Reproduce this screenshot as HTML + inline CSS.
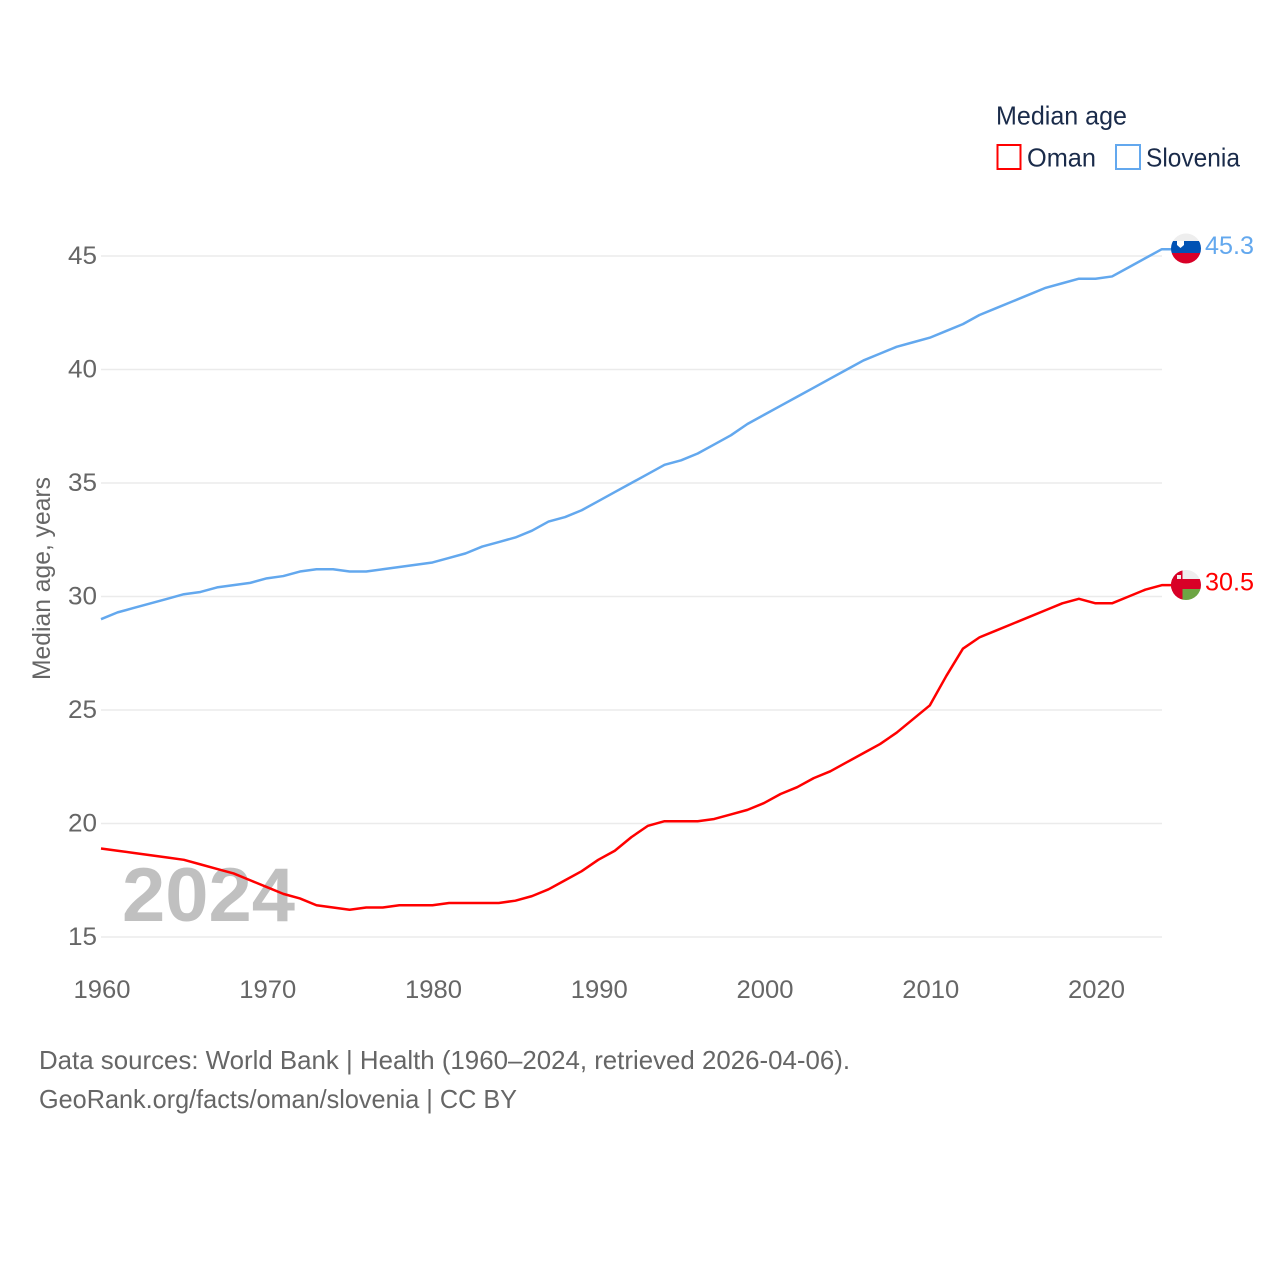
<!DOCTYPE html>
<html lang="en">
<head>
<meta charset="utf-8">
<title>Median age: Oman and Slovenia</title>
<style>
  html, body { margin: 0; padding: 0; background: #fff; }
  svg { display: block; font-family: "Liberation Sans", sans-serif; }
</style>
</head>
<body>
<svg id="chart" xmlns="http://www.w3.org/2000/svg" width="1280" height="1280" viewBox="0 0 1280 1280">
  <defs>
    <clipPath id="flag-clip-si"><circle cx="1186" cy="248.5" r="15"></circle></clipPath>
    <clipPath id="flag-clip-om"><circle cx="1186" cy="585" r="15"></circle></clipPath>
  </defs>
  <rect x="0" y="0" width="1280" height="1280" fill="#ffffff"></rect>
  <g id="grid"></g>
  <text x="122" y="921" font-size="76" font-weight="700" fill="#c0c0c0" textLength="173" lengthAdjust="spacingAndGlyphs">2024</text>
  <g id="y-ticks"></g>
  <g id="x-ticks"></g>
  <text transform="translate(50,680) rotate(-90)" font-size="25" fill="#666666" textLength="203" lengthAdjust="spacingAndGlyphs">Median age, years</text>
  <g id="series"></g>

  <g clip-path="url(#flag-clip-si)">
    <rect x="1171" y="233" width="30" height="8" fill="#eeeeee"></rect>
    <rect x="1171" y="241" width="30" height="12" fill="#0052b4"></rect>
    <rect x="1171" y="253" width="30" height="11" fill="#d80027"></rect>
    <path d="M1177 241h7v4l-3.500 3l-3.500-3z" fill="#ffffff"></path>
  </g>
  <g clip-path="url(#flag-clip-om)">
    <rect x="1171" y="570" width="30" height="30" fill="#eeeeee"></rect>
    <rect x="1171" y="579" width="30" height="10" fill="#d80027"></rect>
    <rect x="1182" y="589" width="19" height="11" fill="#6da544"></rect>
    <rect x="1171" y="570" width="11.500" height="30" fill="#d80027"></rect>
    <rect x="1177" y="575" width="4" height="4" fill="#eeeeee"></rect>
  </g>
  <text x="1205" y="254" font-size="25" fill="#63a8ee" textLength="49" lengthAdjust="spacingAndGlyphs">45.3</text>
  <text x="1205" y="590.500" font-size="25" fill="#ff0000" textLength="49" lengthAdjust="spacingAndGlyphs">30.5</text>

  <g>
    <text x="996" y="124.500" font-size="26" fill="#1a2b4a" textLength="131" lengthAdjust="spacingAndGlyphs">Median age</text>
    <rect x="997.500" y="145" width="23" height="24" fill="none" stroke="#ff0000" stroke-width="2"></rect>
    <text x="1027" y="166.500" font-size="26" fill="#1a2b4a" textLength="69" lengthAdjust="spacingAndGlyphs">Oman</text>
    <rect x="1116" y="145" width="24" height="24" fill="none" stroke="#63a8ee" stroke-width="2"></rect>
    <text x="1146" y="166.500" font-size="26" fill="#1a2b4a" textLength="94" lengthAdjust="spacingAndGlyphs">Slovenia</text>
  </g>

  <text x="39" y="1069" font-size="26" fill="#666666" textLength="811" lengthAdjust="spacingAndGlyphs">Data sources: World Bank | Health (1960–2024, retrieved 2026-04-06).</text>
  <text x="39" y="1108" font-size="26" fill="#666666" textLength="478" lengthAdjust="spacingAndGlyphs">GeoRank.org/facts/oman/slovenia | CC BY</text>
</svg>
<script>
const startYear = 1960;
const yTickValues = [15, 20, 25, 30, 35, 40, 45];
const xTickYears = [1960, 1970, 1980, 1990, 2000, 2010, 2020];
const omanValues = [18.9,18.8,18.7,18.6,18.5,18.4,18.2,18.0,17.8,17.5,17.2,16.9,16.7,16.4,16.3,16.2,16.3,16.3,16.4,16.4,16.4,16.5,16.5,16.5,16.5,16.6,16.8,17.1,17.5,17.9,18.4,18.8,19.4,19.9,20.1,20.1,20.1,20.2,20.4,20.6,20.9,21.3,21.6,22.0,22.3,22.7,23.1,23.5,24.0,24.6,25.2,26.5,27.7,28.2,28.5,28.8,29.1,29.4,29.7,29.9,29.7,29.7,30.0,30.3,30.5];
const sloveniaValues = [29.0,29.3,29.5,29.7,29.9,30.1,30.2,30.4,30.5,30.6,30.8,30.9,31.1,31.2,31.2,31.1,31.1,31.2,31.3,31.4,31.5,31.7,31.9,32.2,32.4,32.6,32.9,33.3,33.5,33.8,34.2,34.6,35.0,35.4,35.8,36.0,36.3,36.7,37.1,37.6,38.0,38.4,38.8,39.2,39.6,40.0,40.4,40.7,41.0,41.2,41.4,41.7,42.0,42.4,42.7,43.0,43.3,43.6,43.8,44.0,44.0,44.1,44.5,44.9,45.3];

const svgNS = 'http://www.w3.org/2000/svg';
function xScale(year) { return 101 + (year - 1960) * (994.5 / 60); }
function yScale(value) { return 937 - (value - 15) * (681 / 30); }

const grid = document.getElementById('grid');
const yTicks = document.getElementById('y-ticks');
const xTicks = document.getElementById('x-ticks');
const series = document.getElementById('series');

yTickValues.forEach(function (v) {
  const line = document.createElementNS(svgNS, 'line');
  
  
  line.setAttribute('x1', 101);
  line.setAttribute('x2', 1162);
  line.setAttribute('y1', yScale(v));
  line.setAttribute('y2', yScale(v));
  line.setAttribute('stroke', '#ebebeb');
  line.setAttribute('stroke-width', '1.5');
  grid.appendChild(line);

  const label = document.createElementNS(svgNS, 'text');
  
  
  label.setAttribute('x', 97);
  label.setAttribute('y', yScale(v) + 8);
  label.setAttribute('text-anchor', 'end');
  label.setAttribute('font-size', '25');
  label.setAttribute('fill', '#666666');
  label.setAttribute('textLength', '29');
  label.setAttribute('lengthAdjust', 'spacingAndGlyphs');
  label.textContent = String(v);
  yTicks.appendChild(label);
});

xTickYears.forEach(function (year) {
  const label = document.createElementNS(svgNS, 'text');
  
  
  label.setAttribute('x', xScale(year) + 1);
  label.setAttribute('y', 998);
  label.setAttribute('text-anchor', 'middle');
  label.setAttribute('font-size', '25');
  label.setAttribute('fill', '#666666');
  label.setAttribute('textLength', '57');
  label.setAttribute('lengthAdjust', 'spacingAndGlyphs');
  label.textContent = String(year);
  xTicks.appendChild(label);
});

function drawSeries(values, color, name) {
  const pts = values.map(function (v, i) {
    return xScale(startYear + i).toFixed(2) + ',' + yScale(v).toFixed(2);
  });
  const last = yScale(values[values.length - 1]).toFixed(2);
  pts.push('1172,' + last);
  const line = document.createElementNS(svgNS, 'polyline');
  
  
  line.setAttribute('points', pts.join(' '));
  line.setAttribute('fill', 'none');
  line.setAttribute('stroke', color);
  line.setAttribute('stroke-width', '2.5');
  line.setAttribute('stroke-linejoin', 'round');
  series.appendChild(line);
}
drawSeries(omanValues, '#ff0000', 'line-oman');
drawSeries(sloveniaValues, '#63a8ee', 'line-slovenia');
</script>
</body>
</html>
